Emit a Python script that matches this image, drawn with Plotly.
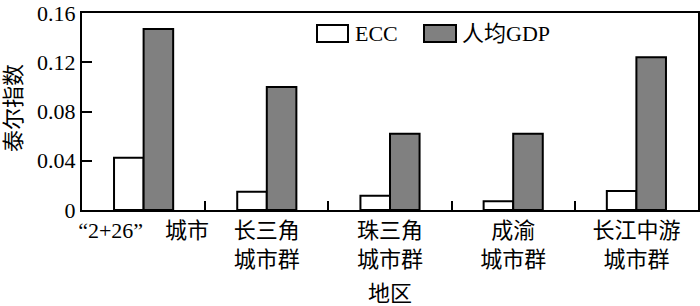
import plotly.graph_objects as go

categories = ["“2+26”\u3000城市", "长三角<br>城市群", "珠三角<br>城市群", "成渝<br>城市群", "长江中游<br>城市群"]
ecc = [0.0425, 0.0148, 0.0115, 0.0072, 0.0155]
gdp_pc = [0.147, 0.100, 0.062, 0.062, 0.124]
y_ticks = [0, 0.04, 0.08, 0.12, 0.16]
y_tick_labels = ["0", "0.04", "0.08", "0.12", "0.16"]
series_names = ["ECC", "人均GDP"]

FONT = "Times New Roman, Liberation Serif, Noto Sans CJK SC"

fig = go.Figure()
fig.add_trace(go.Bar(x=categories, y=ecc, name=series_names[0],
                     marker=dict(color="white", line=dict(color="black", width=2))))
fig.add_trace(go.Bar(x=categories, y=gdp_pc, name=series_names[1],
                     marker=dict(color="#808080", line=dict(color="black", width=2))))

fig.update_layout(
    width=700, height=306,
    margin=dict(l=82, r=2, t=13, b=96),
    paper_bgcolor="white", plot_bgcolor="white",
    barmode="group", bargap=0.52, bargroupgap=0,
    showlegend=False,
    font=dict(family=FONT, size=22, color="black"),
)
fig.update_xaxes(
    type="category", showline=True, linecolor="black", linewidth=2, mirror=True,
    ticks="inside", tickson="boundaries", ticklen=9, tickwidth=2, tickcolor="black",
    showgrid=False, tickfont=dict(family=FONT, size=22), tickangle=0, automargin=False,
)
fig.update_yaxes(
    range=[0, 0.16], tickvals=y_ticks, ticktext=y_tick_labels,
    showline=True, linecolor="black", linewidth=2, mirror=True,
    ticks="inside", ticklen=10, tickwidth=2, tickcolor="black",
    showgrid=False, zeroline=False, tickfont=dict(family=FONT, size=22), automargin=False,
)

# axis titles
fig.add_annotation(text="泰尔指数", xref="paper", yref="paper", x=(13 - 82) / 616, y=(210 - 108) / 197,
                   xanchor="center", yanchor="middle",
                   showarrow=False, textangle=-90, font=dict(family=FONT, size=22))
fig.add_annotation(text="地区", xref="paper", yref="paper", x=0.5, y=(210 - 293) / 197,
                   xanchor="center", yanchor="middle",
                   showarrow=False, font=dict(family=FONT, size=22))

# legend drawn manually
def px_x(p):
    return (p - 82) / 616

def px_y(p):
    return (210 - p) / 197

fig.add_shape(type="rect", xref="paper", yref="paper", x0=px_x(317), x1=px_x(348), y0=px_y(42), y1=px_y(25),
              fillcolor="white", line=dict(color="black", width=2))
fig.add_shape(type="rect", xref="paper", yref="paper", x0=px_x(424), x1=px_x(456), y0=px_y(42), y1=px_y(25),
              fillcolor="#808080", line=dict(color="black", width=2))
fig.add_annotation(text=series_names[0], xref="paper", yref="paper", x=px_x(353), y=px_y(33.5),
                   xanchor="left", yanchor="middle",
                   showarrow=False, font=dict(family=FONT, size=22))
fig.add_annotation(text=series_names[1], xref="paper", yref="paper", x=px_x(460), y=px_y(33.5),
                   xanchor="left", yanchor="middle",
                   showarrow=False, font=dict(family=FONT, size=22))

fig.write_html("out.html")
